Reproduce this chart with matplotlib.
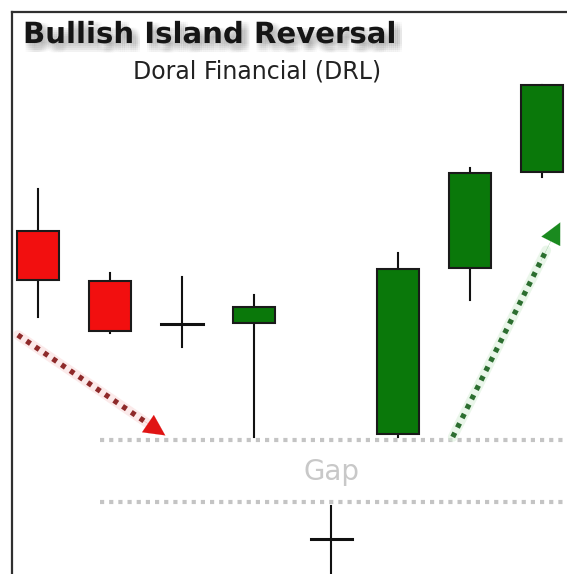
import matplotlib
matplotlib.use("Agg")
import matplotlib.pyplot as plt
import matplotlib.patheffects as pe
from matplotlib.patches import Rectangle

# ---- data (price units) ----
positions = [0, 1, 2, 3, 4.07, 5, 6, 7]
opens  = [17.15, 14.65, 12.50, 12.55, 1.75, 7.00, 15.30, 20.10]
closes = [14.70, 12.15, 12.50, 13.35, 1.75, 15.25, 20.05, 24.45]
highs  = [19.25, 15.05, 14.85, 13.95, 3.40, 16.05, 20.30, 24.45]
lows   = [12.85, 12.05, 11.35, 6.85, -0.80, 6.85, 13.70, 19.85]
gap_levels = [6.70, 3.60]
gap_start_x = 0.86
red_arrow_x = [-0.28, 1.80]
red_arrow_y = [11.95, 6.85]
green_arrow_x = [5.76, 7.27]
green_arrow_y = [6.85, 17.7]
title = "Bullish Island Reversal"
subtitle = "Doral Financial (DRL)"
gap_label = "Gap"

W, H = 567, 574
fig = plt.figure(figsize=(W / 100, H / 100), dpi=100)
fig.patch.set_facecolor("white")
left_px, top_px = 12, 12
ax = fig.add_axes([left_px / W, 0, 1 - left_px / W, 1 - top_px / H])
ax.set_xlim(-26 / 72, 529 / 72)
ax.set_ylim(0, (574 - 12) / 20)
ax.set_xticks([]); ax.set_yticks([])
for s in ["right", "bottom"]:
    ax.spines[s].set_visible(False)
for s in ["left", "top"]:
    ax.spines[s].set_color("#303030")
    ax.spines[s].set_linewidth(1.6)

bw = 0.57
red = "#f20f0f"; green = "#0a780a"; edge = "#1a1a1a"
for x, o, c, h, l in zip(positions, opens, closes, highs, lows):
    ax.plot([x, x], [l, h], color="#111111", lw=1.5, zorder=2)
    if o == c:
        ax.plot([x - bw / 2, x + bw / 2], [o, o], color="#111111", lw=2.2, zorder=3)
        continue
    col = green if c > o else red
    ax.add_patch(Rectangle((x - bw / 2, min(o, c)), bw, abs(c - o),
                           facecolor=col, edgecolor=edge, lw=1.5, zorder=3))

for g in gap_levels:
    ax.plot([gap_start_x, 7.4], [g, g], color="#c4c4c4", lw=3.0,
            linestyle=(0, (1.0, 1.2)), solid_capstyle="butt", zorder=1)

ax.text(4.07, sum(gap_levels) / 2 - 0.05, gap_label, color="#c8c8c8", fontsize=20,
        ha="center", va="center", family="DejaVu Sans")

# arrows: dotted shaft + solid head
def dotted_arrow(xs, ys, dotcol, halocol, headcol):
    dx = xs[1] - xs[0]; dy = ys[1] - ys[0]
    f = 0.86
    ax.plot([xs[0], xs[0] + dx * f], [ys[0], ys[0] + dy * f], color=halocol,
            lw=7.0, alpha=0.5, solid_capstyle="round", zorder=4)
    ax.plot([xs[0], xs[0] + dx * f], [ys[0], ys[0] + dy * f], color=dotcol,
            lw=3.8, linestyle=(0, (0.9, 1.1)), solid_capstyle="butt", zorder=4)
    ax.annotate("", xy=(xs[1], ys[1]), xytext=(xs[0] + dx * 0.8, ys[0] + dy * 0.8),
                arrowprops=dict(arrowstyle="-|>,head_length=1.5,head_width=0.75",
                                color=headcol, lw=0.1), zorder=5)

dotted_arrow(red_arrow_x, red_arrow_y, "#8e2a2a", "#f9d6d6", "#e01414")
dotted_arrow(green_arrow_x, green_arrow_y, "#2c6e30", "#d6efd6", "#1a8a1f")

# title with a soft, blurred drop shadow (built from several faint shadows)
shadow_fx = []
for dx in (0, 2, 4, 6, 8):
    for dy in (-1, -3, -5, -7, -9):
        shadow_fx.append(pe.SimplePatchShadow(offset=(dx * 0.72, dy * 0.72),
                                              shadow_rgbFace="#7a7a7a", alpha=0.035))
shadow_fx.append(pe.Normal())
fig.text(23 / W, 1 - 43 / H, title, fontsize=21, fontweight="bold", color="#151515",
         ha="left", va="baseline", family="DejaVu Sans", path_effects=shadow_fx)
fig.text(133 / W, 1 - 79 / H, subtitle, fontsize=17, color="#222222",
         ha="left", va="baseline", family="DejaVu Sans")

fig.savefig("out.png", dpi=100, facecolor="white")
